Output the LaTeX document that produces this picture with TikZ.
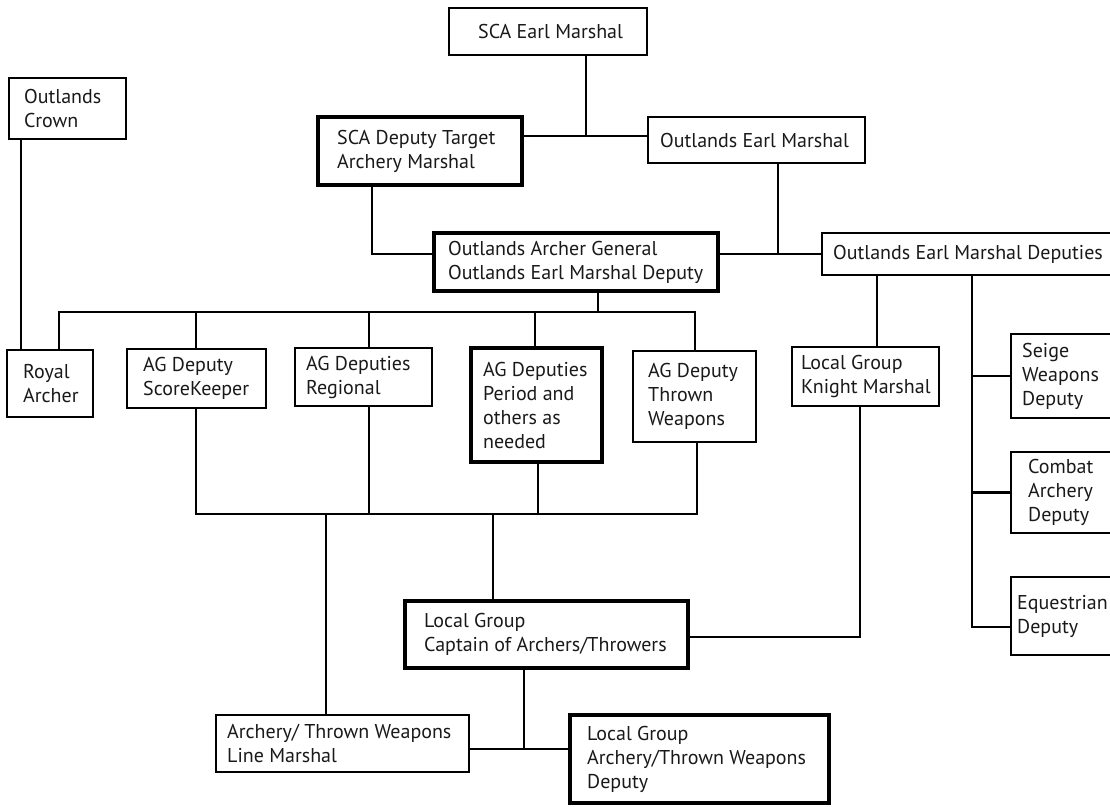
\documentclass[tikz,border=0pt]{standalone}
\usepackage{fontspec}
\setmainfont{PT Sans}
\begin{document}
\begin{tikzpicture}[x=1pt,y=-1pt,
  box/.style={draw, line width=2.8pt, inner sep=0pt},
  thickbox/.style={box, line width=3.2pt},
  lbl/.style={inner sep=0pt, anchor=west, align=left, text=black!90,
    font=\fontsize{20}{24}\selectfont},
  conn/.style={line width=2.8pt, line cap=rect}]
\useasboundingbox (0,0) rectangle (1110,806);
\newcommand\bx[8][box]{%
  \pgfmathsetmacro\bw{#5-#3}\pgfmathsetmacro\bh{#6-#4}%
  \pgfmathsetmacro\bcx{(#3+#5)/2}\pgfmathsetmacro\bcy{(#4+#6)/2}%
  \pgfmathsetmacro\tx{#3+#7}%
  \node[#1, minimum width=\bw pt, minimum height=\bh pt] (#2) at (\bcx,\bcy) {};
  \node[lbl] (#2-t) at (\tx,\bcy) {#8};}
\bx{sem}{449}{8}{647}{55}{29}{SCA Earl Marshal}
\bx{crown}{9}{78}{126}{139}{15}{Outlands\\Crown}
\bx[thickbox]{sda}{318}{117}{522}{185}{19}{SCA Deputy Target\\Archery Marshal}
\bx{oem}{648}{117}{865}{163}{12}{Outlands Earl Marshal}
\bx[thickbox]{oag}{434}{233}{718}{291}{14}{Outlands Archer General\\Outlands Earl Marshal Deputy}
\bx{oemd}{822}{233}{1200}{275}{11}{Outlands Earl Marshal Deputies}
\bx{royal}{7}{350}{93}{417}{16}{Royal\\Archer}
\bx{score}{127}{349}{266}{408}{16}{AG Deputy\\ScoreKeeper}
\bx{regional}{295}{348}{432}{406}{11}{AG Deputies\\Regional}
\bx[thickbox]{period}{471}{348}{602}{462}{12}{AG Deputies\\Period and\\others as\\needed}
\bx{thrown}{633}{351}{756}{442}{15}{AG Deputy\\Thrown\\Weapons}
\bx{km}{792}{347}{939}{406}{9}{Local Group\\Knight Marshal}
\bx{seige}{1011}{334}{1200}{418}{11}{Seige\\Weapons\\Deputy}
\bx{combat}{1011}{452}{1200}{533}{17}{Combat\\Archery\\Deputy}
\bx{eq}{1011}{577}{1200}{655}{6}{Equestrian\\Deputy}
\bx[thickbox]{cap}{405}{601}{688}{668}{19}{Local Group\\Captain of Archers/Throwers}
\bx{lm}{216}{715}{469}{772}{11}{Archery/ Thrown Weapons\\Line Marshal}
\bx[thickbox]{lgd}{570}{715}{829}{803}{17}{Local Group\\Archery/Thrown Weapons\\Deputy}
% junctions
\coordinate (j1) at (586,136);
\coordinate (j2) at (372,254);
\coordinate (j3) at (778,254);
\coordinate (b0) at (59,312);
\coordinate (b1) at (598,312);
\coordinate (b2) at (196,312);
\coordinate (b3) at (369,312);
\coordinate (b4) at (535,312);
\coordinate (b5) at (695,312);
\coordinate (c1) at (21,0);
\coordinate (l0) at (196,514);
\coordinate (l1) at (369,514);
\coordinate (l2) at (538,514);
\coordinate (l3) at (697,514);
\coordinate (l4) at (326,514);
\coordinate (l5) at (493,514);
\coordinate (r1) at (877,0);
\coordinate (r2) at (972,627);
\coordinate (k1) at (860,637);
\coordinate (m1) at (524,749);
% connectors
\draw[conn] (sem.south -| j1) -- (j1);
\draw[conn] (sda.east |- j1) -- (oem.west |- j1);
\draw[conn] (sda.south -| j2) -- (j2) -- (oag.west |- j2);
\draw[conn] (oem.south -| j3) -- (j3);
\draw[conn] (oag.east |- j3) -- (oemd.west |- j3);
\draw[conn] (crown.south -| c1) -- (royal.north -| c1);
\draw[conn] (oag.south -| b1) -- (b1);
\draw[conn] (royal.north -| b0) -- (b0) -- (b5) -- (thrown.north -| b5);
\draw[conn] (b2) -- (score.north -| b2);
\draw[conn] (b3) -- (regional.north -| b3);
\draw[conn] (b4) -- (period.north -| b4);
\draw[conn] (score.south -| l0) -- (l0) -- (l3) -- (thrown.south -| l3);
\draw[conn] (regional.south -| l1) -- (l1);
\draw[conn] (period.south -| l2) -- (l2);
\draw[conn] (l4) -- (lm.north -| l4);
\draw[conn] (l5) -- (cap.north -| l5);
\draw[conn] (oemd.south -| r1) -- (km.north -| r1);
\draw[conn] (oemd.south -| r2) -- (r2) -- (eq.west |- r2);
\draw[conn] (r2 |- seige.west) -- (seige.west);
\draw[conn] (r2 |- combat.west) -- (combat.west);
\draw[conn] (km.south -| k1) -- (k1) -- (cap.east |- k1);
\draw[conn] (cap.south -| m1) -- (m1);
\draw[conn] (lm.east |- m1) -- (lgd.west |- m1);
\end{tikzpicture}
\end{document}
